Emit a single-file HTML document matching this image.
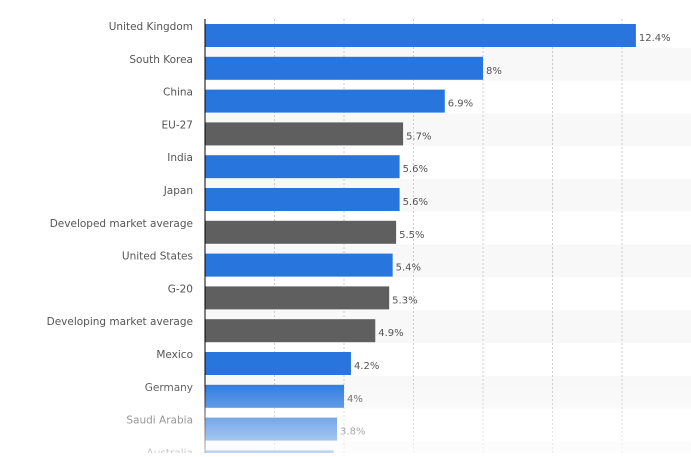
<!DOCTYPE html>
<html><head><meta charset="utf-8"><style>
body{margin:0;width:691px;height:453px;overflow:hidden;background:#fff;font-family:"DejaVu Sans","Liberation Sans",sans-serif}
</style></head><body>
<svg id="c" width="691" height="453"></svg>
<script>
const categories=["United Kingdom","South Korea","China","EU-27","India","Japan","Developed market average","United States","G-20","Developing market average","Mexico","Germany","Saudi Arabia","Australia"];
const values=[12.4,8,6.9,5.7,5.6,5.6,5.5,5.4,5.3,4.9,4.2,4,3.8,3.7];
const labels=["12.4%","8%","6.9%","5.7%","5.6%","5.6%","5.5%","5.4%","5.3%","4.9%","4.2%","4%","3.8%","3.7%"];
const aggregate=[0,0,0,1,0,0,1,0,1,1,0,0,0,0];
const gridTicks=[2,4,6,8,10,12,14];
const NS="http://www.w3.org/2000/svg";
const svg=document.getElementById("c");
const x0=205,pxPer=34.75,rowTop=24,rowH=32.8,barH=23;
const xs=v=>x0+v*pxPer;
const ys=i=>rowTop+i*rowH;
function mk(t,a){const e=document.createElementNS(NS,t);for(const k in a)e.setAttribute(k,a[k]);svg.appendChild(e);return e;}
categories.forEach((c,i)=>{if(i%2==1){const r=mk("rect",{x:x0,y:ys(i)-9,width:691-x0,height:rowH,fill:"#f8f8f8"});

}});
gridTicks.forEach(t=>{const l=mk("line",{x1:xs(t),x2:xs(t),y1:19,y2:453,stroke:"#ccc","stroke-dasharray":"2,2"});

});
categories.forEach((c,i)=>{
const y=ys(i);
const b=mk("rect",{x:x0,y:y,width:xs(values[i])-x0,height:barH,fill:aggregate[i]?"#5f5f5f":"#2876dd"});


const t=mk("text",{x:193,y:y+6,"text-anchor":"end","font-size":"10.5",fill:"#555"});t.textContent=c;


const v=mk("text",{x:xs(values[i])+3,y:y+17,"font-size":"10",fill:"#555"});v.textContent=labels[i];


});
const ax=mk("line",{x1:x0,x2:x0,y1:19,y2:453,stroke:"#000","stroke-width":"1"});


const defs=mk("defs",{});
defs.innerHTML='<linearGradient id="f" x1="0" y1="0" x2="0" y2="1"><stop offset="0" stop-color="#fff" stop-opacity="0"/><stop offset="1" stop-color="#fff" stop-opacity="0.7"/></linearGradient>';
const fade=mk("rect",{x:0,y:380,width:691,height:73,fill:"url(#f)"});


</script>
</body></html>
